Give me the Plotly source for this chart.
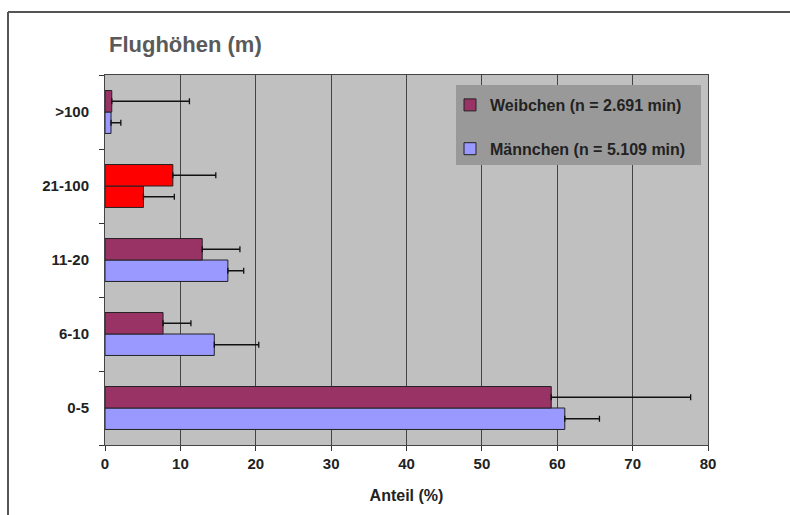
import plotly.graph_objects as go

# Flight-height classes (bottom to top) and shares in percent
categories = ["0-5", "6-10", "11-20", "21-100", ">100"]
weibchen = [59.2, 7.7, 12.9, 9.0, 0.9]
weibchen_err = [18.5, 3.7, 5.0, 5.7, 10.3]
maennchen = [61.0, 14.5, 16.3, 5.1, 0.8]
maennchen_err = [4.6, 5.9, 2.1, 4.1, 1.3]
x_ticks = [0, 10, 20, 30, 40, 50, 60, 70, 80]

name_w = "Weibchen (n = 2.691 min)"
name_m = "Männchen (n = 5.109 min)"
col_w, col_m, col_hi = "#993366", "#9999FF", "#FF0000"
highlight = "21-100"

def colors(base):
    return [col_hi if c == highlight else base for c in categories]

err_style = dict(type="data", symmetric=False, color="#111111", thickness=1.3, width=3)
font_family = "Liberation Sans, Arial, sans-serif"

fig = go.Figure()
fig.add_trace(go.Bar(
    y=categories, x=maennchen, orientation="h", name=name_m, legendgroup="m", legendrank=2,
    marker=dict(color=colors(col_m), line=dict(color="#222222", width=1)),
    error_x=dict(array=maennchen_err, arrayminus=[0] * len(categories), **err_style),
))
fig.add_trace(go.Bar(
    y=categories, x=weibchen, orientation="h", name=name_w, legendgroup="w", legendrank=1,
    marker=dict(color=colors(col_w), line=dict(color="#222222", width=1)),
    error_x=dict(array=weibchen_err, arrayminus=[0] * len(categories), **err_style),
))

W, H = 790, 515
L, R, T, B = 105, 82, 75, 70
pw, ph = W - L - R, H - T - B

def px(xp):
    return (xp - L) / pw

def py(yp):
    return (H - B - yp) / ph

shapes = [
    # outer chart frame (top and left edge)
    dict(type="line", xref="paper", yref="paper", x0=px(8), x1=px(800), y0=py(12), y1=py(12),
         line=dict(color="#555555", width=2)),
    dict(type="line", xref="paper", yref="paper", x0=px(8), x1=px(8), y0=py(12), y1=py(530),
         line=dict(color="#555555", width=2)),
    # legend box
    dict(type="rect", xref="paper", yref="paper", x0=px(456), x1=px(701), y0=py(85), y1=py(165),
         fillcolor="#999999", line=dict(width=0), layer="above"),
]

fig.update_layout(
    width=W, height=H,
    margin=dict(l=L, r=R, t=T, b=B),
    paper_bgcolor="white",
    plot_bgcolor="#C0C0C0",
    barmode="group", bargap=0.42, bargroupgap=0,
    font=dict(family=font_family, size=13, color="#222222"),
    showlegend=True,
    legend=dict(
        x=px(450), y=py(88), xanchor="left", yanchor="top",
        bgcolor="rgba(0,0,0,0)", borderwidth=0,
        traceorder="grouped", tracegroupgap=20,
        font=dict(size=16, color="#222222", family=font_family, weight="bold"),
        itemwidth=30,
    ),
    shapes=shapes,
    annotations=[dict(
        text="Flughöhen (m)", xref="paper", yref="paper", x=px(107), y=py(45),
        xanchor="left", yanchor="middle", showarrow=False,
        font=dict(size=22, color="#5a5a5a", family=font_family, weight="bold"),
    )],
)

fig.update_xaxes(
    range=[0, 80], tickvals=x_ticks, ticks="outside", ticklen=5, tickcolor="#333333",
    showgrid=True, gridcolor="#444444", gridwidth=1,
    showline=True, linecolor="#444444", linewidth=1, mirror=True,
    zeroline=False,
    tickfont=dict(size=15, color="#222222", weight="bold"),
    title=dict(text="Anteil (%)", font=dict(size=16, color="#222222", weight="bold"), standoff=18),
)
fig.update_yaxes(
    categoryorder="array", categoryarray=categories,
    ticks="outside", tickson="boundaries", ticklen=5, tickcolor="#333333",
    showline=True, linecolor="#444444", linewidth=1, mirror=True,
    showgrid=False,
    tickfont=dict(size=15, color="#222222", weight="bold"),
    ticklabelstandoff=12,
)

fig.write_html("out.html")
